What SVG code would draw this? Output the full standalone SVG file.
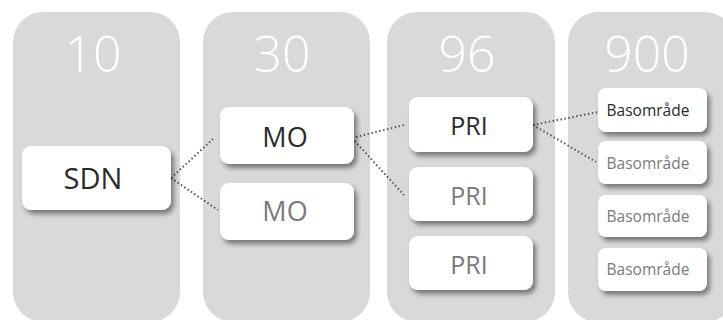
<svg xmlns="http://www.w3.org/2000/svg" width="723" height="320" viewBox="0 0 723 320">
<defs>
<filter id="sh" x="-20%" y="-30%" width="150%" height="170%">
<feDropShadow dx="3" dy="4" stdDeviation="2.5" flood-color="#000" flood-opacity="0.45"/>
</filter>
<style>
.col{fill:#d9d9d9}
.num{font-family:"Open Sans","Noto Sans",sans-serif;font-weight:300;font-size:50px;fill:#fff;text-anchor:middle}
.box{fill:#fff;filter:url(#sh)}
.t{font-family:"Open Sans","Noto Sans",sans-serif;text-anchor:middle}
.s1{font-size:29px}
.s2{font-size:27px}
.s3{font-size:25px}
.sm{font-size:15.5px}
.dk{fill:#2b2b2b}
.lt{fill:#7a7a7a}
.con{fill:none;stroke:#555;stroke-width:2;stroke-dasharray:1.5 2.5}
</style>
</defs>
<rect width="723" height="320" fill="#fff"/>
<g id="col1"><rect class="col" x="13" y="12" width="167" height="310" rx="30"/><text class="num" x="93" y="72">10</text></g>
<g id="col2"><rect class="col" x="203" y="12" width="167" height="310" rx="30"/><text class="num" x="282" y="72">30</text></g>
<g id="col3"><rect class="col" x="387" y="12" width="168" height="310" rx="30"/><text class="num" x="467" y="72">96</text></g>
<g id="col4"><rect class="col" x="568" y="12" width="167" height="310" rx="30"/><text class="num" x="647" y="72">900</text></g>
<g id="connectors">
<line class="con" x1="171" y1="178" x2="213" y2="139"/>
<line class="con" x1="171" y1="178" x2="218" y2="210"/>
<line class="con" x1="352" y1="138" x2="404" y2="125"/>
<line class="con" x1="352" y1="138" x2="404" y2="195"/>
<line class="con" x1="533" y1="125" x2="598" y2="112"/>
<line class="con" x1="533" y1="125" x2="596" y2="162"/>
</g>
<g id="sdn"><rect class="box" x="22" y="146" width="149" height="64" rx="9"/><text class="t s1 dk" x="93" y="189">SDN</text></g>
<g id="mo1"><rect class="box" x="220" y="107" width="134" height="57" rx="9"/><text class="t s2 dk" x="285" y="147">MO</text></g>
<g id="mo2"><rect class="box" x="220" y="183" width="134" height="57" rx="9"/><text class="t s2 lt" x="285" y="221">MO</text></g>
<g id="pri1"><rect class="box" x="409" y="97" width="124" height="55" rx="9"/><text class="t s3 dk" x="469" y="135">PRI</text></g>
<g id="pri2"><rect class="box" x="409" y="167" width="124" height="54" rx="9"/><text class="t s3 lt" x="469" y="205">PRI</text></g>
<g id="pri3"><rect class="box" x="409" y="236" width="124" height="54" rx="9"/><text class="t s3 lt" x="469" y="274">PRI</text></g>
<g id="ba1"><rect class="box" x="598" y="88" width="109" height="44" rx="8"/><text class="t sm dk" x="648" y="116">Basområde</text></g>
<g id="ba2"><rect class="box" x="598" y="141" width="109" height="43" rx="8"/><text class="t sm lt" x="648" y="169">Basområde</text></g>
<g id="ba3"><rect class="box" x="598" y="195" width="109" height="42" rx="8"/><text class="t sm lt" x="648" y="222">Basområde</text></g>
<g id="ba4"><rect class="box" x="598" y="248" width="109" height="43" rx="8"/><text class="t sm lt" x="648" y="275">Basområde</text></g>
</svg>
